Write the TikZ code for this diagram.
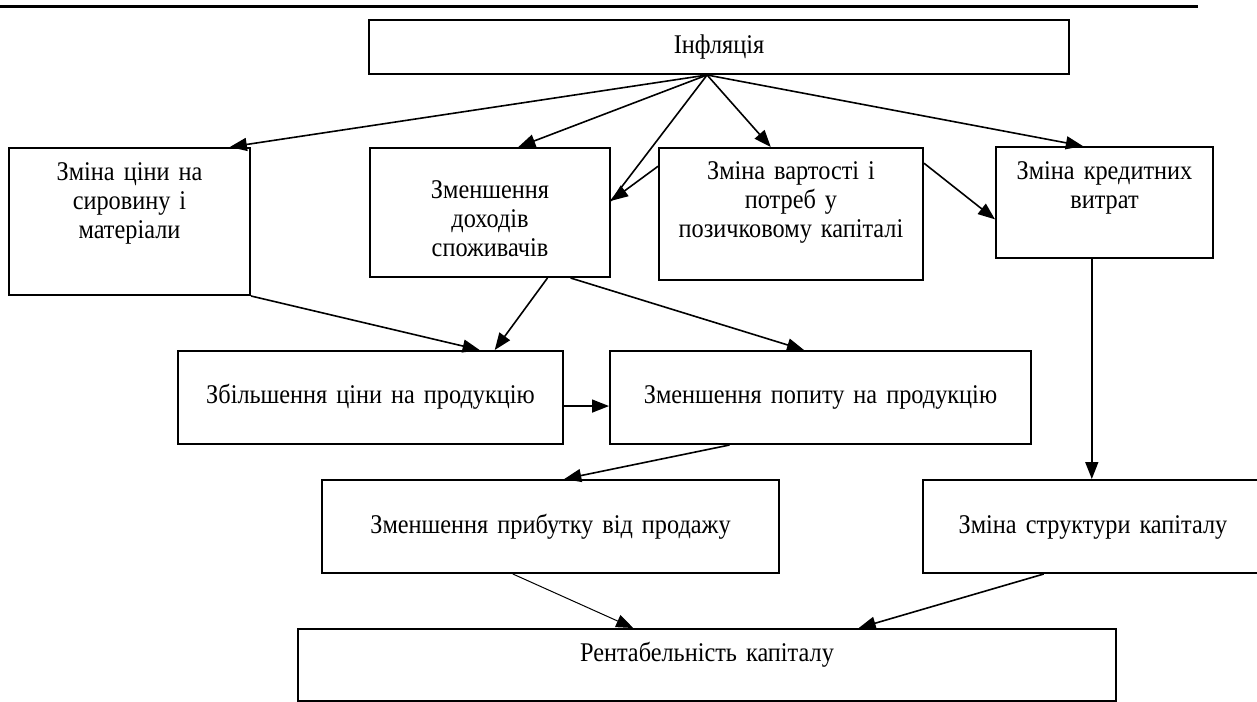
\documentclass[tikz,border=0pt]{standalone}
\usepackage{fontspec}
\setmainfont[FakeStretch=0.9,WordSpace=0.8]{Liberation Serif}
\usetikzlibrary{arrows.meta,calc}

\begin{document}
\begin{tikzpicture}[
        x=0.5pt, y=-0.5pt,
        blk/.style={draw, line width=1pt, inner sep=0pt, align=center, anchor=north west,
            font=\fontsize{13.5}{14.5}\selectfont},
        arr/.style={line width=0.8pt, -{Triangle[length=8.5pt,width=6.5pt]}},
    ]
        \useasboundingbox (0,0) rectangle (1257,701);
        \draw[line width=1.5pt] (0,7) -- (1198,7);

        \node[blk, text width=350pt, text height=17pt, text depth=10pt] (infl) at (368,19) {Інфляція};

        \node[blk, text width=120.5pt, text height=16pt, text depth=57.5pt] (raw) at (8,147)
            {Зміна ціни на\\ сировину і\\ матеріали};
        \node[blk, text width=120pt, text height=25pt, text depth=39.5pt] (income) at (369,147)
            {Зменшення\\ доходів\\ споживачів};
        \node[blk, text width=132pt, text height=15.5pt, text depth=50.5pt] (loan) at (658,147)
            {Зміна вартості і\\ потреб у\\ позичковому капіталі};
        \node[blk, text width=108.5pt, text height=16pt, text depth=39.5pt] (credit) at (995,146)
            {Зміна кредитних\\ витрат};

        \node[blk, text width=192.5pt, text height=26pt, text depth=20.5pt] (price) at (177,350)
            {Збільшення ціни на продукцію};
        \node[blk, text width=210.5pt, text height=26pt, text depth=20.5pt] (demand) at (609,350)
            {Зменшення попиту на продукцію};

        \node[blk, text width=228.5pt, text height=26.5pt, text depth=20pt] (profit) at (321,479)
            {Зменшення прибутку від продажу};
        \node[blk, text width=170pt, text height=26.5pt, text depth=20pt] (struct) at (922,479)
            {Зміна структури капіталу};

        \node[blk, text width=409pt, text height=16pt, text depth=20pt] (rent) at (297,628)
            {Рентабельність капіталу};

        \coordinate (o) at ($(infl.south west)!.483!(infl.south east)$);
        \coordinate (inc) at ($(income.north east)!.411!(income.south east)$);
        \coordinate (cr) at ($(credit.south west)!.442!(credit.south east)$);

        \draw[arr] (o) -- ($(raw.north west)!.913!(raw.north east)$);
        \draw[arr] (o) -- ($(income.north west)!.617!(income.north east)$);
        \draw[line width=0.8pt] (o) -- (inc);
        \draw[arr] ($(loan.north west)!.144!(loan.south west)$) -- (inc);
        \draw[arr] (o) -- ($(loan.north west)!.424!(loan.north east)$);
        \draw[arr] (o) -- ($(credit.north west)!.401!(credit.north east)$);
        \draw[arr] ($(loan.north east)!.121!(loan.south east)$) -- ($(credit.north west)!.649!(credit.south west)$);

        \draw[arr] (raw.south east) -- ($(price.north west)!.782!(price.north east)$);
        \draw[arr] ($(income.south west)!.7375!(income.south east)$) -- ($(price.north west)!.821!(price.north east)$);
        \draw[arr] ($(income.south west)!.833!(income.south east)$) -- ($(demand.north west)!.461!(demand.north east)$);
        \draw[arr] ($(price.north east)!.59!(price.south east)$) -- ($(demand.north west)!.59!(demand.south west)$);

        \draw[arr] ($(demand.south west)!.285!(demand.south east)$) -- ($(profit.north west)!.53!(profit.north east)$);
        \draw[arr] (cr) -- (cr |- struct.north);

        \draw[arr, line width=0.5pt] ($(profit.south west)!.418!(profit.south east)$) -- ($(rent.north west)!.41!(rent.north east)$);
        \draw[arr] ($(struct.south west)!.356!(struct.south east)$) -- ($(rent.north west)!.685!(rent.north east)$);
    \end{tikzpicture}
\end{document}
